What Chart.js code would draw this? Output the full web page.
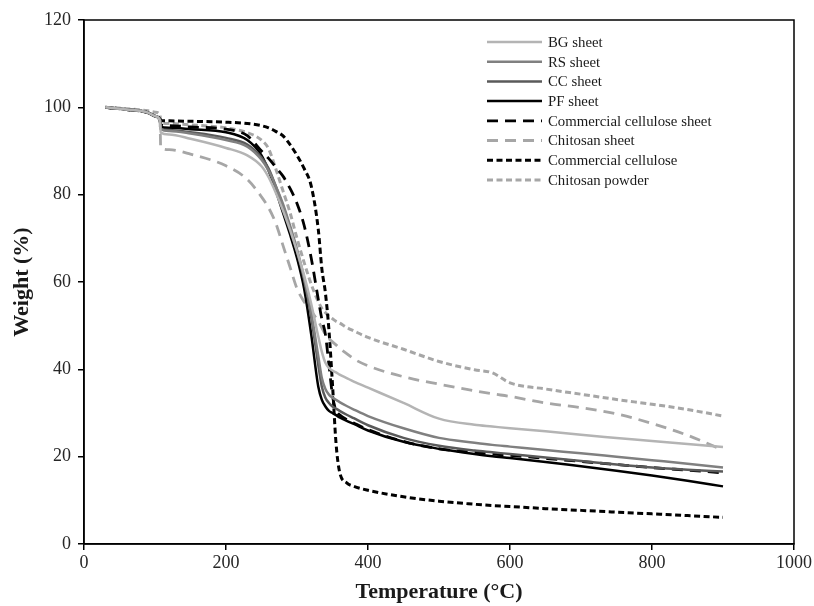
<!DOCTYPE html>
<html><head><meta charset="utf-8">
<script src="https://cdn.jsdelivr.net/npm/chart.js@4"></script>
<style>html,body{margin:0;padding:0;background:#fff}</style>
</head><body>
<canvas id="c" width="814" height="606"></canvas>
<script>
const temps = [30,60,90,100,107,108,120,150,200,230,250,260,270,280,290,300,310,320,330,335,340,345,350,355,360,370,380,400,450,500,550,575,600,650,700,750,800,850,900];
const bgSheet = [100,99.5,98.8,98,97,94.2,93.8,92.8,90.7,89,86.5,84,80.5,76.5,72,67,61.5,55,47.5,44,41.5,40.3,39.7,39.3,38.8,38,37.2,35.8,32.3,28.7,27.3,26.9,26.5,25.8,25,24.3,23.6,22.9,22.2];
const rsSheet = [100,99.5,98.8,98,97,95,94.6,94,92.5,91,88,85.5,82,78,73,67.5,61,53,43,38,35.5,34.2,33.5,33,32.5,31.6,30.8,29.3,26.5,24.3,23.2,22.7,22.3,21.5,20.8,20,19.2,18.4,17.5];
const ccSheet = [100,99.5,98.8,98,97,95,94.8,94.3,93,91.5,88.5,86,82,77.5,72.5,67,60.5,52,41,36,33.5,32.3,31.5,31,30.5,29.6,28.8,27.2,24.3,22.5,21.4,21,20.6,19.8,19,18.2,17.5,17,16.6];
const pfSheet = [100,99.5,98.8,98,97,95.5,95.3,95,94.3,92.5,89,85.5,81,76,71,65.5,58.5,48,36,33,31.5,30.5,30,29.5,29,28.2,27.5,26,23.4,21.8,20.6,20.1,19.7,18.8,17.8,16.8,15.7,14.5,13.2];
const commCelluloseSheet = [100,99.5,98.8,98,97.3,96,95.8,95.5,95,93.5,90,88.3,86.3,84.3,81.5,78,73,65.5,56,51.5,48,41,34,30.5,29.6,28.5,27.7,26.2,23.5,21.8,21,20.6,20.3,19.6,18.9,18.2,17.5,16.9,16.3];
const chitosanSheet = [100,99.5,98.8,98,97.3,90.8,90.3,89.3,86.6,83.5,79.5,77,73.5,68.5,63.5,58.5,55.5,53.3,51,49.5,48,47,46.3,45.6,44.8,43.6,42.4,40.8,38.3,36.6,35.1,34.4,33.8,32.3,31.2,29.8,27.6,24.9,21.5];
const commCellulose = [100,99.5,98.8,98,97.5,97,96.9,96.8,96.6,96.3,95.8,95.3,94.5,93.5,91.5,89,86,82,72,63,57.5,49,36.5,23,16.5,14,13.2,12.3,10.8,9.8,9.1,8.8,8.6,8.1,7.7,7.3,6.9,6.5,6.1];
const chitosanPowder = [100,99.7,99.2,98.9,98.3,96.5,96.3,96,95.3,94.2,92.5,90.5,86,81,76,70,64.5,59.5,55.5,54,53,52.2,51.6,51,50.6,49.6,48.8,47.3,44.6,41.8,39.9,39.2,36.9,35.5,34.3,33.1,32,30.8,29.3];
const seriesNames = ['BG sheet','RS sheet','CC sheet','PF sheet','Commercial cellulose sheet','Chitosan sheet','Commercial cellulose','Chitosan powder'];
const xTickValues = [0,200,400,600,800,1000];
const yTickValues = [0,20,40,60,80,100,120];

const seriesValues = [bgSheet, rsSheet, ccSheet, pfSheet, commCelluloseSheet, chitosanSheet, commCellulose, chitosanPowder];
const styles = [
  {c:'#b4b4b4', w:2.5, d:[]},
  {c:'#808080', w:2.5, d:[]},
  {c:'#5a5a5a', w:2.5, d:[]},
  {c:'#000000', w:2.5, d:[]},
  {c:'#000000', w:2.8, d:[11,7]},
  {c:'#a6a6a6', w:2.8, d:[11,7]},
  {c:'#000000', w:3, d:[6,3.5]},
  {c:'#a6a6a6', w:3, d:[6,3.5]}
];
const datasets = seriesValues.map((vals,i)=>({
  label: seriesNames[i],
  data: temps.map((t,j)=>({x:t, y:vals[j]})),
  borderColor: styles[i].c,
  borderWidth: styles[i].w,
  borderDash: styles[i].d,
  pointRadius: 0,
  fill: false,
  cubicInterpolationMode: 'monotone'
}));

const FONT = '"Liberation Serif", "Times New Roman", serif';

const framePlugin = {
  id:'frame',
  afterDraw(chart){
    const {ctx, chartArea:a} = chart;
    ctx.save();
    ctx.strokeStyle='#000'; ctx.lineWidth=1.5;
    ctx.strokeRect(a.left, a.top, a.right-a.left, a.bottom-a.top);
    chart.data.datasets.forEach((ds,i)=>{
      const y = 42 + i*19.7;
      ctx.strokeStyle = ds.borderColor;
      ctx.lineWidth = ds.borderWidth;
      ctx.setLineDash(ds.borderDash||[]);
      ctx.beginPath(); ctx.moveTo(487,y); ctx.lineTo(542,y); ctx.stroke();
      ctx.setLineDash([]);
      ctx.fillStyle = '#1a1a1a';
      ctx.font = '14.8px ' + FONT;
      ctx.textBaseline = 'middle';
      ctx.textAlign = 'left';
      ctx.fillText(ds.label, 548, y+1);
    });
    ctx.restore();
  }
};

new Chart(document.getElementById('c'), {
  type:'line',
  data:{datasets},
  options:{
    responsive:false, animation:false, devicePixelRatio:1,
    layout:{padding:{top:20, right:19, left:0, bottom:0}},
    plugins:{legend:{display:false}, tooltip:{enabled:false}},
    scales:{
      x:{
        type:'linear', min:0, max:1000,
        afterBuildTicks(s){ s.ticks = xTickValues.map(v=>({value:v})); },
        afterFit(s){ s.height = 62; },
        ticks:{font:{family:FONT, size:18}, color:'#262626', padding:2, maxRotation:0, callback:v=>String(v)},
        grid:{display:true, drawOnChartArea:false, drawTicks:true, tickLength:6, color:'#000', lineWidth:1.5},
        border:{display:true, color:'#000', width:1.5},
        title:{display:true, text:'Temperature (°C)', font:{family:FONT, size:22, weight:'bold'}, color:'#1a1a1a', padding:{top:0, bottom:0}}
      },
      y:{
        type:'linear', min:0, max:120,
        afterBuildTicks(s){ s.ticks = yTickValues.map(v=>({value:v})); },
        afterFit(s){ s.width = 84; },
        ticks:{font:{family:FONT, size:18}, color:'#262626', padding:7, callback:v=>String(v)},
        grid:{display:true, drawOnChartArea:false, drawTicks:true, tickLength:6, color:'#000', lineWidth:1.5},
        border:{display:true, color:'#000', width:1.5},
        title:{display:true, text:'Weight (%)', font:{family:FONT, size:22, weight:'bold'}, color:'#1a1a1a', padding:{top:9, bottom:0}}
      }
    }
  },
  plugins:[framePlugin]
});
</script>
</body></html>
